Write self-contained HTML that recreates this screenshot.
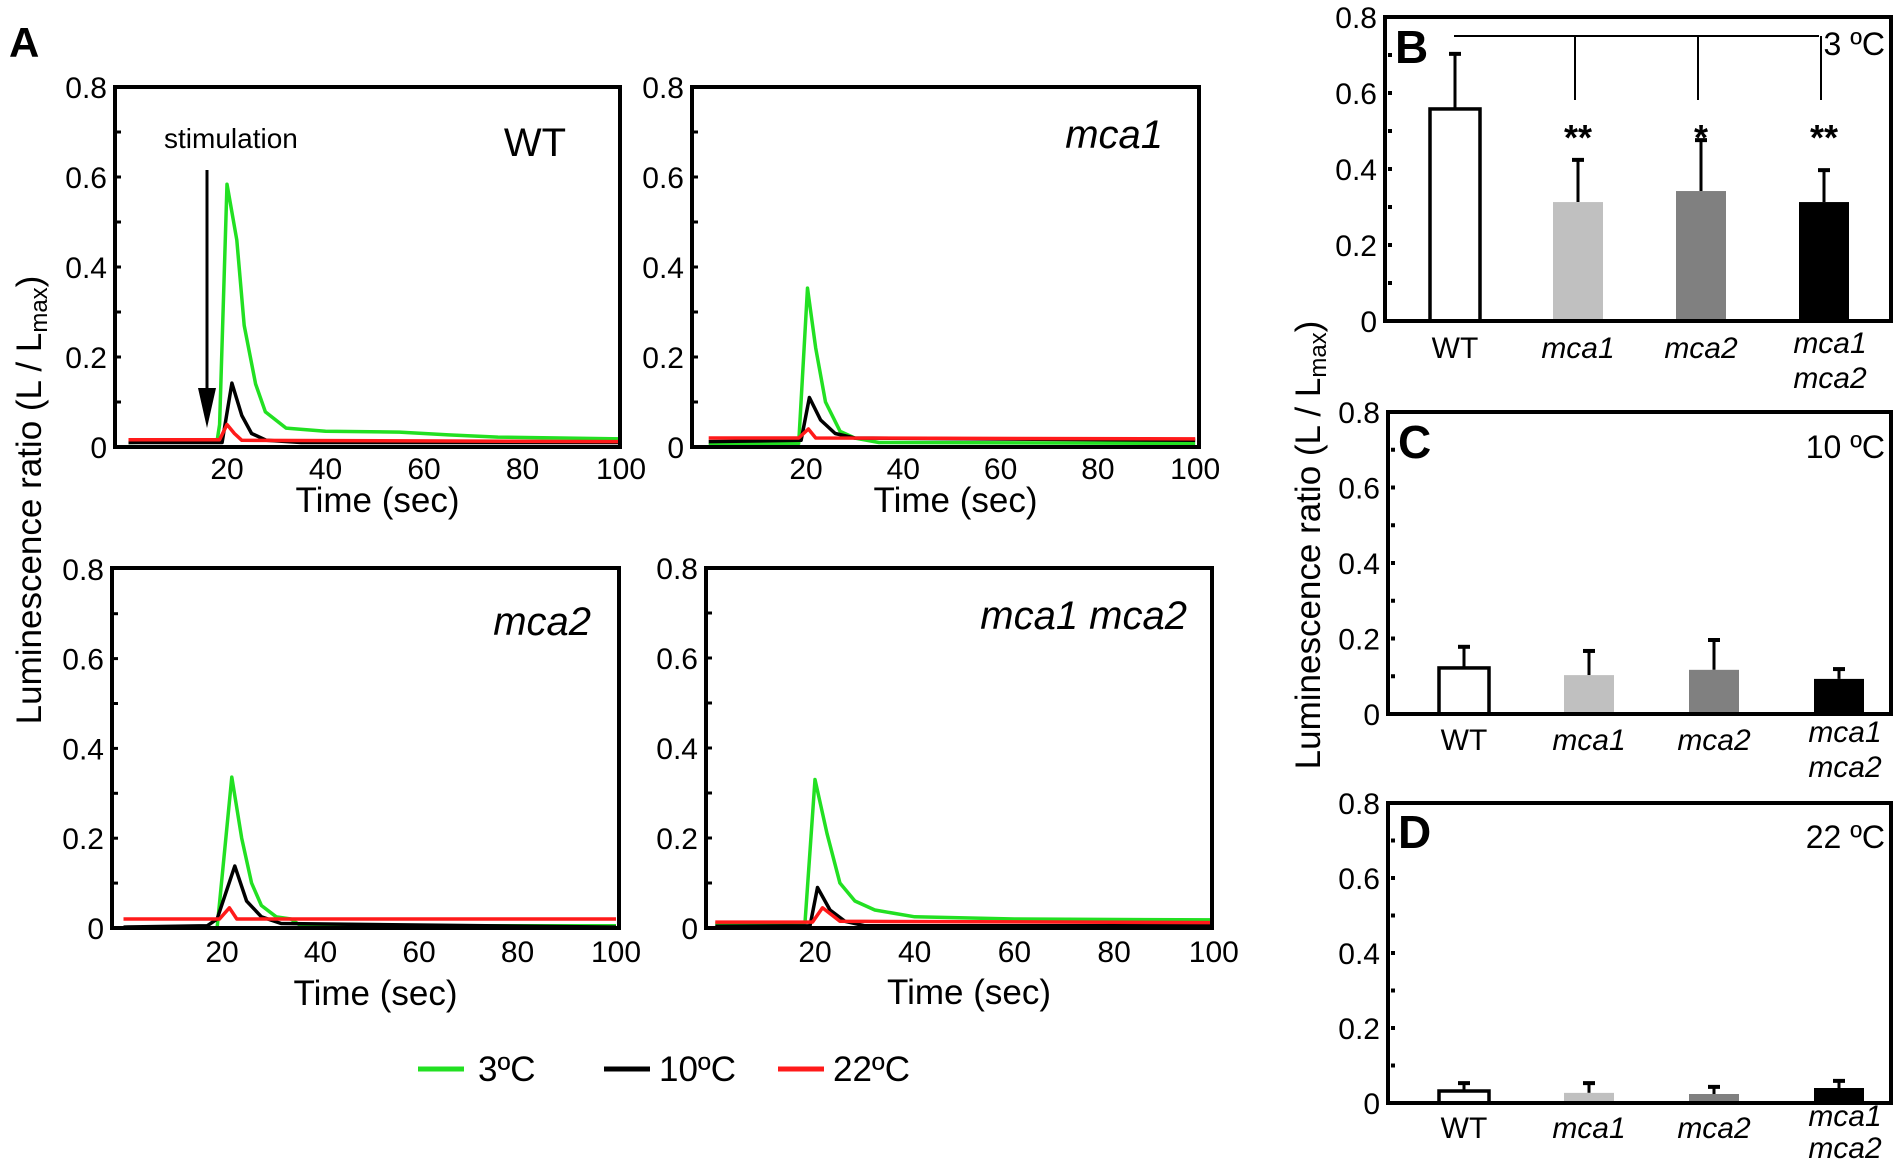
<!DOCTYPE html>
<html><head><meta charset="utf-8"><title>Luminescence figure</title>
<style>
html,body{margin:0;padding:0;background:#fff;}
svg{display:block;font-family:"Liberation Sans",Arial,sans-serif;}
</style></head>
<body>
<svg id="fig" width="1900" height="1169" viewBox="0 0 1900 1169" xmlns="http://www.w3.org/2000/svg"></svg>
<script>
// ---------- Time-course data (A panels) ----------
const xTicks = [20, 40, 60, 80, 100];
const yTicksLine = [0, 0.2, 0.4, 0.6, 0.8];
const yTickLabels = ["0", "0.2", "0.4", "0.6", "0.8"];
const seriesNames = ["3ºC", "10ºC", "22ºC"];

// WT
const wtT3 = [0, 18, 18.5, 20, 22, 23.5, 25.8, 27.8, 32, 40, 55, 65, 75, 100];
const wtV3 = [0.01, 0.015, 0.05, 0.584, 0.46, 0.27, 0.14, 0.078, 0.042, 0.035, 0.033, 0.027, 0.022, 0.018];
const wtT10 = [0, 19, 21, 23, 25, 28, 35, 100];
const wtV10 = [0.01, 0.01, 0.142, 0.07, 0.03, 0.015, 0.01, 0.01];
const wtT22 = [0, 18.5, 20, 21.5, 23, 100];
const wtV22 = [0.016, 0.016, 0.05, 0.03, 0.015, 0.012];
// mca1
const m1T3 = [0, 18.5, 20.3, 22, 24, 27, 30, 35, 100];
const m1V3 = [0.005, 0.008, 0.353, 0.22, 0.1, 0.035, 0.02, 0.01, 0.008];
const m1T10 = [0, 19, 20.7, 23, 26, 30, 100];
const m1V10 = [0.012, 0.015, 0.11, 0.06, 0.03, 0.02, 0.015];
const m1T22 = [0, 18.5, 20.5, 22, 100];
const m1V22 = [0.02, 0.02, 0.04, 0.02, 0.018];
// mca2
const m2T3 = [0, 19, 22, 24, 26, 28, 31, 34, 36, 100];
const m2V3 = [0.0, 0.0, 0.336, 0.2, 0.1, 0.05, 0.025, 0.02, 0.005, 0.005];
const m2T10 = [0, 17, 19, 22.6, 25, 28, 32, 100];
const m2V10 = [0.002, 0.005, 0.02, 0.138, 0.06, 0.025, 0.01, 0.002];
const m2T22 = [0, 19.5, 21.5, 23, 100];
const m2V22 = [0.02, 0.02, 0.045, 0.02, 0.02];
// mca1 mca2
const dT3 = [0, 18, 20, 22.4, 25, 28, 32, 40, 60, 100];
const dV3 = [0.01, 0.012, 0.33, 0.21, 0.1, 0.06, 0.04, 0.025, 0.02, 0.018];
const dT10 = [0, 19, 20.5, 23, 26, 30, 100];
const dV10 = [0.004, 0.005, 0.09, 0.04, 0.015, 0.005, 0.005];
const dT22 = [0, 19.5, 21.5, 25, 100];
const dV22 = [0.013, 0.013, 0.045, 0.015, 0.012];

// ---------- Bar data (B, C, D) ----------
const genotypes = ["WT", "mca1", "mca2", "mca1 mca2"];
const b3Mean = [0.558, 0.313, 0.342, 0.313];
const b3Sd = [0.145, 0.111, 0.134, 0.084];
const b3Sig = ["", "**", "*", "**"];
const c10Mean = [0.122, 0.103, 0.117, 0.093];
const c10Sd = [0.056, 0.064, 0.079, 0.026];
const d22Mean = [0.032, 0.027, 0.024, 0.040];
const d22Sd = [0.021, 0.026, 0.019, 0.019];
const barFills = ["#ffffff", "#c0c0c0", "#808080", "#000000"];
const lineColors = ["#22e022", "#000000", "#ff1a1a"];

const NS = "http://www.w3.org/2000/svg";
const svg = document.getElementById("fig");
function mk(tag, attrs, parent, text) {
  const e = document.createElementNS(NS, tag);
  for (const k in attrs) e.setAttribute(k, attrs[k]);
  if (text !== undefined) e.textContent = text;
  (parent || svg).appendChild(e);
  return e;
}

// ---------- line panels ----------
const linePanels = [
  {key:"wt", title:"WT", italic:false, box:[115,87,620,447], x20:227, xStep:98.5, y0:447, yU:450, titleX:566, titleY:156,
   T:[wtT3,wtT10,wtT22], V:[wtV3,wtV10,wtV22], xlabY:479, tY:512},
  {key:"mca1", title:"mca1", italic:true, box:[692,87,1199,447], x20:806, xStep:97.3, y0:447, yU:450, titleX:1163, titleY:148,
   T:[m1T3,m1T10,m1T22], V:[m1V3,m1V10,m1V22], xlabY:479, tY:512},
  {key:"mca2", title:"mca2", italic:true, box:[112,568,619,928], x20:222, xStep:98.5, y0:928, yU:449, titleX:591, titleY:635,
   T:[m2T3,m2T10,m2T22], V:[m2V3,m2V10,m2V22], xlabY:962, tY:1005},
  {key:"mca1-mca2", title:"mca1 mca2", italic:true, box:[706,568,1212,928], x20:815, xStep:99.7, y0:928, yU:450, titleX:1187, titleY:629,
   T:[dT3,dT10,dT22], V:[dV3,dV10,dV22], xlabY:962, tY:1004}
];

linePanels.forEach(p => {
  const g = mk("g", {});
  
  
  const xs = t => p.x20 + (t - 20) * p.xStep / 20;
  const ys = v => p.y0 - v * p.yU;
  const [l, t, r, b] = p.box;
  p.T.forEach((tArr, si) => {
    const pts = tArr.map((tv, i) => xs(tv).toFixed(1) + "," + ys(p.V[si][i]).toFixed(1)).join(" ");
    const pl = mk("polyline", {points: pts, fill: "none", stroke: lineColors[si], "stroke-width": 3.5, "stroke-linejoin": "round"}, g);
    
    
  });
  const fr = mk("rect", {x: l, y: t, width: r - l, height: b - t, fill: "none", stroke: "#000", "stroke-width": 4}, g);
  
  
  for (let k = 1; k < 8; k++) {
    const yy = ys(k / 10);
    mk("line", {x1: l, x2: l + 6, y1: yy, y2: yy, stroke: "#000", "stroke-width": 3}, g);
  }
  yTicksLine.forEach((v, i) => {
    const tx = mk("text", {x: l - 8, y: ys(v) + 11, "text-anchor": "end", "font-size": 30}, g, yTickLabels[i]);
    
    
  });
  xTicks.forEach(v => {
    const tx = mk("text", {x: xs(v), y: p.xlabY, "text-anchor": "middle", "font-size": 30}, g, String(v));
    
    
  });
  const xt = mk("text", {x: (l + r) / 2 + 10, y: p.tY, "text-anchor": "middle", "font-size": 35}, g, "Time (sec)");
  
  
  const pt = mk("text", {x: p.titleX, y: p.titleY, "text-anchor": "end", "font-size": 40, "font-style": p.italic ? "italic" : "normal"}, g, p.title);
  
  
});

const stim = mk("text", {x: 164, y: 148, "font-size": 28}, svg, "stimulation");


const arr = mk("g", {});


mk("line", {x1: 207, x2: 207, y1: 170, y2: 395, stroke: "#000", "stroke-width": 3}, arr);
mk("polygon", {points: "198,388 216,388 207,428", fill: "#000"}, arr);

const la = mk("text", {x: 9, y: 57, "font-size": 42, "font-weight": "bold"}, svg, "A");



const yl = mk("text", {x: 0, y: 0, "font-size": 35, "text-anchor": "middle", transform: "translate(41,500) rotate(-90)"}, svg);


yl.innerHTML = 'Luminescence ratio (L / L<tspan font-size="24" dy="6">max</tspan><tspan dy="-6">)</tspan>';

const legend = mk("g", {});


const legX = [418, 604, 778];
seriesNames.forEach((n, i) => {
  const ge = mk("g", {}, legend);
  
  
  mk("line", {x1: legX[i], x2: legX[i] + 46, y1: 1069, y2: 1069, stroke: lineColors[i], "stroke-width": 5}, ge);
  mk("text", {x: legX[i] + (i === 0 ? 60 : 55), y: 1081, "font-size": 35}, ge, n);
});

// ---------- bar panels ----------
const barPanels = [
  {key:"b", letter:"B", temp:"3 ºC", box:[1385,17,1891,321], mean:b3Mean, sd:b3Sd, sig:b3Sig, first:1455, step:123, lettY:63, tempY:55, labY:358, d1:-5, d2:30},
  {key:"c", letter:"C", temp:"10 ºC", box:[1388,412,1891,714], mean:c10Mean, sd:c10Sd, sig:null, first:1464, step:125, lettY:458, tempY:458, labY:750, d1:-8, d2:27},
  {key:"d", letter:"D", temp:"22 ºC", box:[1388,803,1891,1103], mean:d22Mean, sd:d22Sd, sig:null, first:1464, step:125, lettY:848, tempY:848, labY:1138, d1:-12, d2:20}
];
barPanels.forEach(p => {
  const g = mk("g", {});
  
  
  const [l, t, r, b] = p.box;
  const yU = (b - t) / 0.8;
  const ys = v => b - v * yU;
  const xc = i => p.first + i * p.step;
  genotypes.forEach((gn, i) => {
    const cx = xc(i), w = 50;
    const top = ys(p.mean[i]), etop = ys(p.mean[i] + p.sd[i]);
    const eb = mk("g", {}, g);
    
    
    mk("line", {x1: cx, x2: cx, y1: top, y2: etop, stroke: "#000", "stroke-width": 3}, eb);
    mk("line", {x1: cx - 6, x2: cx + 6, y1: etop, y2: etop, stroke: "#000", "stroke-width": 4}, eb);
    const rc = mk("rect", {x: cx - w / 2, y: top, width: w, height: b - top, fill: barFills[i],
      stroke: i === 0 ? "#000" : "none", "stroke-width": 3.5}, g);
    
    
    if (gn === "mca1 mca2") {
      const t1 = mk("text", {x: cx + 6, y: p.labY + p.d1, "text-anchor": "middle", "font-size": 30, "font-style": "italic"}, g, "mca1");
      
      
      const t2 = mk("text", {x: cx + 6, y: p.labY + p.d2, "text-anchor": "middle", "font-size": 30, "font-style": "italic"}, g, "mca2");
      
      
    } else {
      const tx = mk("text", {x: cx, y: p.labY, "text-anchor": "middle", "font-size": 30, "font-style": i === 0 ? "normal" : "italic"}, g, gn);
      
      
    }
    if (p.sig && p.sig[i]) {
      const st = mk("text", {x: cx, y: 150, "text-anchor": "middle", "font-size": 36, "font-weight": "bold"}, g, p.sig[i]);
      
      
    }
  });
  const fr = mk("rect", {x: l, y: t, width: r - l, height: b - t, fill: "none", stroke: "#000", "stroke-width": 4}, g);
  
  
  for (let k = 1; k < 8; k++) {
    const yy = ys(k / 10);
    mk("rect", {x: l + 3, y: yy - 2, width: 4, height: 4, fill: "#000"}, g);
  }
  yTicksLine.forEach((v, i) => {
    const tx = mk("text", {x: l - 8, y: ys(v) + 11, "text-anchor": "end", "font-size": 30}, g, yTickLabels[i]);
    
    
  });
  const lt = mk("text", {x: l + 10, y: p.lettY, "font-size": 46, "font-weight": "bold"}, g, p.letter);
  
  
  const tt = mk("text", {x: r - 6, y: p.tempY, "text-anchor": "end", "font-size": 32}, g, p.temp);
  
  
  if (p.sig) {
    const sg = mk("g", {}, g);
    
    
    mk("line", {x1: xc(0) - 1, x2: xc(3) - 5, y1: 36, y2: 36, stroke: "#000", "stroke-width": 2}, sg);
    [1, 2, 3].forEach(i => {
      mk("line", {x1: xc(i) - 3, x2: xc(i) - 3, y1: 36, y2: 100, stroke: "#000", "stroke-width": 2}, sg);
    });
  }
});

const yr = mk("text", {x: 0, y: 0, "font-size": 35, "text-anchor": "middle", transform: "translate(1320,545) rotate(-90)"}, svg);


yr.innerHTML = 'Luminescence ratio (L / L<tspan font-size="24" dy="6">max</tspan><tspan dy="-6">)</tspan>';
</script>
</body></html>
